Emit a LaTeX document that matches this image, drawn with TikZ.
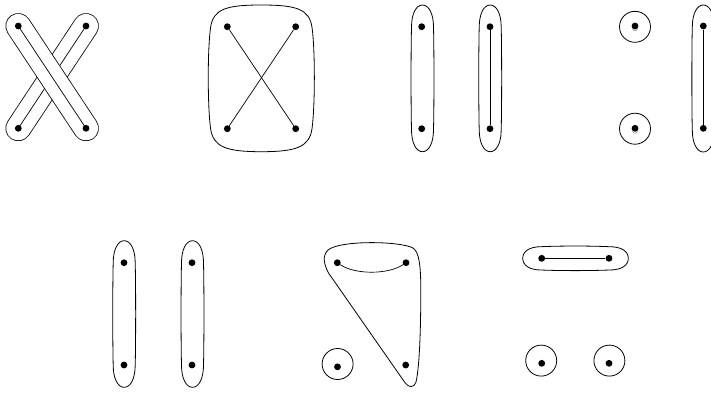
\documentclass[tikz,border=0pt]{standalone}
\tikzset{
 dot/.style={circle,fill=black,inner sep=0pt,minimum size=6.8pt},
 edge/.style={line width=0.7pt},
 hull/.style={line width=0.8pt},
 band/.style={double=white,double distance=24.2pt,line width=0.8pt,line cap=round},
 ring/.style={circle,draw,line width=0.8pt,inner sep=0pt,minimum size=31pt},
 selfloop/.style={line width=0.4pt,black!60}
}
% vertical hull: #1 centre x, #2 top y, #3 bottom y (pixel units, y down)
\newcommand\vhull[3]{%
 \draw[hull] (#1,#2) .. controls (#1+6.5,#2) and (#1+11,#2+9) .. (#1+11,#2+22)
  .. controls (#1+11.6,#2+45) and (#1+11.6,#3-45) .. (#1+11,#3-22)
  .. controls (#1+11,#3-9) and (#1+6.5,#3) .. (#1,#3)
  .. controls (#1-6.5,#3) and (#1-11,#3-9) .. (#1-11,#3-22)
  .. controls (#1-11.6,#3-45) and (#1-11.6,#2+45) .. (#1-11,#2+22)
  .. controls (#1-11,#2+9) and (#1-6.5,#2) .. (#1,#2) -- cycle;}
\begin{document}
\begin{tikzpicture}[x=1pt,y=-1pt]
\useasboundingbox (0,0) rectangle (711,392);

% ---------- panel 1 : crossing bands ----------
\coordinate (p1a) at (18.3,26);
\coordinate (p1b) at (86,26);
\coordinate (p1c) at (18.3,128.3);
\coordinate (p1d) at (86,128.3);
\draw[band] (p1b) -- (p1c);
\draw[edge] (p1b) -- (p1c);
\draw[band] (p1a) -- (p1d);
\draw[edge] (p1a) -- (p1d);
\foreach \n in {a,b,c,d} \node[dot] (d1\n) at (p1\n) {};

% ---------- panel 2 : one hull, crossing edges ----------
\node[dot] (d2a) at (227.3,26.7) {};
\node[dot] (d2b) at (295.7,26.7) {};
\node[dot] (d2c) at (227.3,128.7) {};
\node[dot] (d2d) at (295.7,128.7) {};
\draw[edge] (d2a) -- (d2d);
\draw[edge] (d2b) -- (d2c);
\draw[hull] (261.3,5) .. controls (226,5) and (213,9) .. (210.5,28)
  .. controls (207.5,50) and (207.5,105) .. (210.5,128)
  .. controls (213,147) and (226,151.7) .. (261.3,151.7)
  .. controls (296.6,151.7) and (309.6,147) .. (312.1,128)
  .. controls (315.1,105) and (315.1,50) .. (312.1,28)
  .. controls (309.6,9) and (296.6,5) .. (261.3,5) -- cycle;

% ---------- panel 3 ----------
\node[dot] (d3a) at (421.7,26.7) {};
\node[dot] (d3b) at (421.7,128.7) {};
\node[dot] (d3c) at (490,26.7) {};
\node[dot] (d3d) at (490,128.7) {};
\draw[edge] (d3c) -- (d3d);
\vhull{422.5}{5}{151.7}
\vhull{490.2}{5}{151.7}

% ---------- panel 4 ----------
\node[dot] (d4a) at (635,26) {};
\node[dot] (d4b) at (635,128.3) {};
\node[ring] (r4a) at (635,26.8) {};
\node[ring] (r4b) at (635,128.7) {};
\draw[selfloop] (d4a.south west) .. controls +(0.6,3.2) and +(-0.6,3.2) .. (d4a.south east);
\draw[selfloop] (d4b.south west) .. controls +(0.6,3.2) and +(-0.6,3.2) .. (d4b.south east);
\node[dot] (d4c) at (703.3,26) {};
\node[dot] (d4d) at (703.3,128.3) {};
\draw[edge] (d4c) -- (d4d);
\vhull{703.3}{5}{152}

% ---------- panel 5 ----------
\node[dot] (d5a) at (124,262.7) {};
\node[dot] (d5b) at (124,365) {};
\node[dot] (d5c) at (192,262.7) {};
\node[dot] (d5d) at (192,365) {};
\vhull{124.2}{240.7}{387.3}
\vhull{192.5}{240.7}{387.3}

% ---------- panel 6 ----------
\node[dot] (d6a) at (337.3,262.7) {};
\node[dot] (d6b) at (406,262.7) {};
\node[dot] (d6c) at (405.7,365) {};
\node[dot] (d6d) at (337.5,366.8) {};
\node[ring] (r6) at (337.6,364) {};
\draw[edge] (d6a) .. controls (355,274.7) and (388,274.7) .. (d6b);
\draw[hull] (328.3,272.7) -- (405,382.7)
  .. controls (409,388) and (414,388) .. (416,382)
  .. controls (420,365) and (420.8,320) .. (420.8,290)
  .. controls (420.8,265) and (419,252) .. (413,248)
  .. controls (400,241) and (340,240) .. (328,250)
  .. controls (322,256) and (324,264) .. (328.3,272.7) -- cycle;

% ---------- panel 7 ----------
\node[dot] (d7a) at (541.7,258.3) {};
\node[dot] (d7b) at (609,258.3) {};
\draw[edge] (d7a) -- (d7b);
\draw[hull] (522.7,258.3) .. controls (522.7,251) and (530,246.7) .. (541,246.7)
  .. controls (560,245.8) and (590,245.8) .. (609.5,246.7)
  .. controls (621,246.7) and (628.3,251) .. (628.3,258.3)
  .. controls (628.3,265.6) and (621,270) .. (609.5,270)
  .. controls (590,270.8) and (560,270.8) .. (541,270)
  .. controls (530,270) and (522.7,265.6) .. (522.7,258.3) -- cycle;
\node[dot] (d7c) at (541.7,363.3) {};
\node[dot] (d7d) at (609,363.3) {};
\node[ring] (r7a) at (541.2,360.6) {};
\node[ring] (r7b) at (609.4,360.6) {};
\end{tikzpicture}
\end{document}
